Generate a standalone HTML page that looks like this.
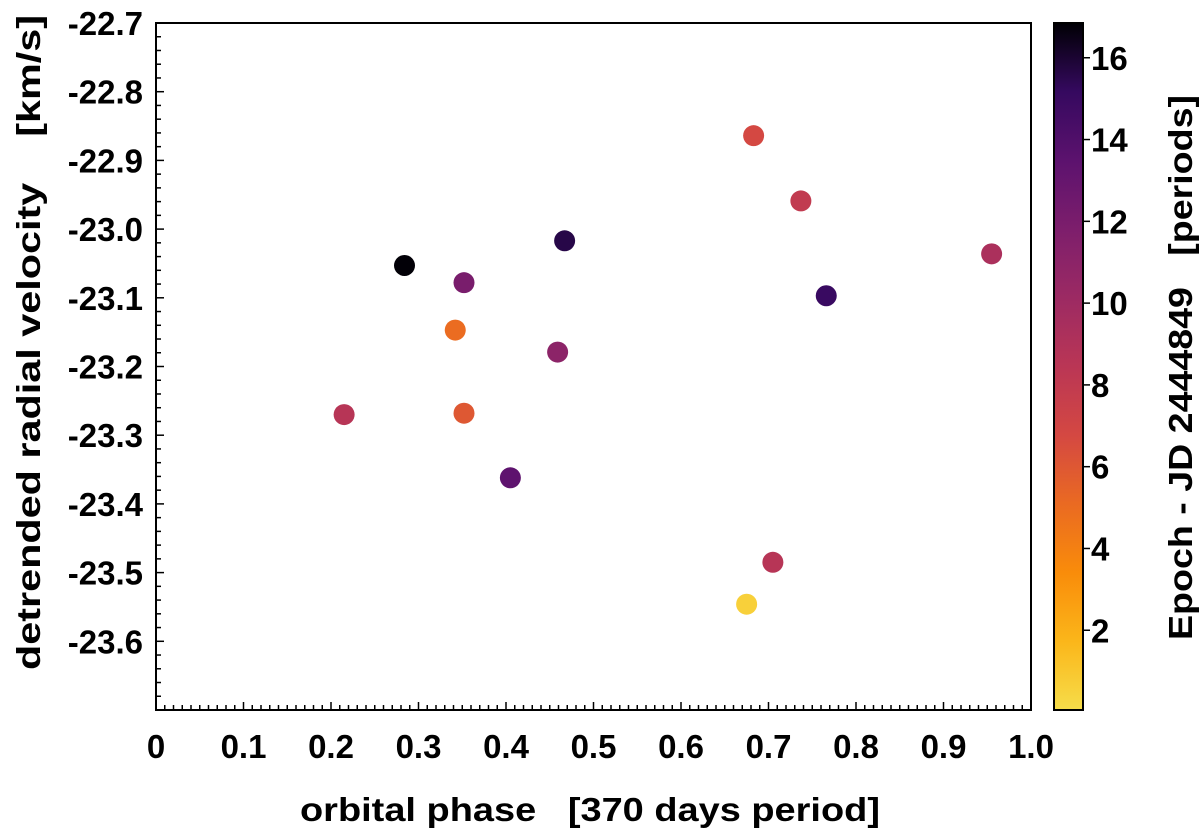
<!DOCTYPE html>
<html><head><meta charset="utf-8"><style>
body{margin:0;background:#fff}
text{font-family:"Liberation Sans",sans-serif;font-weight:bold;fill:#000;white-space:pre}
</style></head><body>
<svg id="chart" width="1200" height="831">
<defs>
<linearGradient id="cbgrad" x1="0" y1="1" x2="0" y2="0">
<stop offset="0" stop-color="#f6dd4a"/><stop offset="0.1" stop-color="#fbb61a"/><stop offset="0.2" stop-color="#f98c0a"/><stop offset="0.3" stop-color="#ea6a22"/><stop offset="0.4" stop-color="#d44842"/><stop offset="0.5" stop-color="#ba3655"/><stop offset="0.6" stop-color="#9c2a63"/><stop offset="0.7" stop-color="#7d1e6c"/><stop offset="0.8" stop-color="#5c126e"/><stop offset="0.9" stop-color="#35095f"/><stop offset="1" stop-color="#000004"/>
</linearGradient>
</defs>
<g id="axes"></g>
<g id="pts"></g>
</svg>
<script>
const phase=[0.683,0.737,0.955,0.467,0.284,0.352,0.766,0.342,0.459,0.215,0.352,0.405,0.705,0.675];
const velocity=[-22.864,-22.959,-23.036,-23.017,-23.053,-23.078,-23.097,-23.147,-23.179,-23.27,-23.268,-23.362,-23.485,-23.546];
const epoch=[6.8,8.0,9.3,15.6,16.8,12.0,15.0,5.0,11.0,8.6,6.0,13.4,8.6,0.6];
const xTicks=[0,0.1,0.2,0.3,0.4,0.5,0.6,0.7,0.8,0.9,1.0];
const yTicks=[-22.7,-22.8,-22.9,-23.0,-23.1,-23.2,-23.3,-23.4,-23.5,-23.6];
const cTicks=[2,4,6,8,10,12,14,16];
const L=156,R=1031,T=23,B=710,ymax=-22.7,ymin=-23.7;
const CX=1054,CW=29,CT=23,CB=710,cmin=0.05,cmax=16.85;
const sx=v=>L+(v-0)/(1)*(R-L);
const sy=v=>T+(ymax-v)/(ymax-ymin)*(B-T);
const sc=v=>CB-(v-cmin)/(cmax-cmin)*(CB-CT);
const NS='http://www.w3.org/2000/svg';
const ax=document.getElementById('axes'),pg=document.getElementById('pts');
function mk(tag,at,parent){const e=document.createElementNS(NS,tag);for(const k in at)e.setAttribute(k,at[k]);parent.appendChild(e);return e;}
const frame=mk('rect',{x:L,y:T,width:R-L,height:B-T,fill:'none',stroke:'#000','stroke-width':2},ax);


for(let i=0;i<=100;i++){const x=sx(i/100);const t=mk('line',{x1:x,x2:x,y1:B,y2:B-(i%10==0?8:5),stroke:'#000','stroke-width':1.5},ax);

}
for(let i=0;i<=50;i++){const v=ymax-i*0.02;const y=sy(v);const t=mk('line',{x1:L,x2:L+(i%5==0?8:5),y1:y,y2:y,stroke:'#000','stroke-width':1.5},ax);

}
xTicks.forEach(v=>{const t=mk('text',{x:sx(v),y:758,'text-anchor':'middle','font-size':33},ax);t.textContent=(v===0?'0':v.toFixed(1));

});
yTicks.forEach(v=>{const t=mk('text',{x:143,y:sy(v)+12,'text-anchor':'end','font-size':33},ax);t.textContent=v.toFixed(1);

});
const xt=mk('text',{x:300,y:821,'font-size':33,textLength:580,lengthAdjust:'spacingAndGlyphs'},ax);xt.textContent='orbital phase   [370 days period]';


const yt=mk('text',{x:0,y:0,'font-size':33,textLength:655,lengthAdjust:'spacingAndGlyphs',transform:'translate(40,670) rotate(-90)'},ax);yt.textContent='detrended radial velocity    [km/s]';


const cb=mk('rect',{x:CX,y:CT,width:CW,height:CB-CT,fill:'url(#cbgrad)',stroke:'#000','stroke-width':2},ax);


cTicks.forEach(v=>{const y=sc(v);const l=mk('line',{x1:CX+CW,x2:CX+CW+7,y1:y,y2:y,stroke:'#000','stroke-width':1.5},ax);


const t=mk('text',{x:CX+CW+8,y:y+12,'font-size':33},ax);t.textContent=v;

});
const ct=mk('text',{x:0,y:0,'font-size':33,textLength:545,lengthAdjust:'spacingAndGlyphs',transform:'translate(1192,640) rotate(-90)'},ax);ct.textContent='Epoch - JD 2444849   [periods]';


const stops=[[0,[246,221,74]],[0.1,[251,182,26]],[0.2,[249,140,10]],[0.3,[234,106,34]],[0.4,[212,72,66]],[0.5,[186,54,85]],[0.6,[156,42,99]],[0.7,[125,30,108]],[0.8,[92,18,110]],[0.9,[53,9,95]],[1,[0,0,4]]];
function cmap(v){let f=Math.max(0,Math.min(1,(v-cmin)/(cmax-cmin)));for(let i=1;i<stops.length;i++){if(f<=stops[i][0]){const a=stops[i-1],b=stops[i];const u=(f-a[0])/(b[0]-a[0]);const c=a[1].map((x,k)=>Math.round(x+(b[1][k]-x)*u));return 'rgb('+c.join(',')+')';}}return 'rgb(0,0,4)';}
phase.forEach((p,i)=>{const c=mk('circle',{cx:sx(p),cy:sy(velocity[i]),r:10.5,fill:cmap(epoch[i])},pg);

});
</script>
</body></html>
